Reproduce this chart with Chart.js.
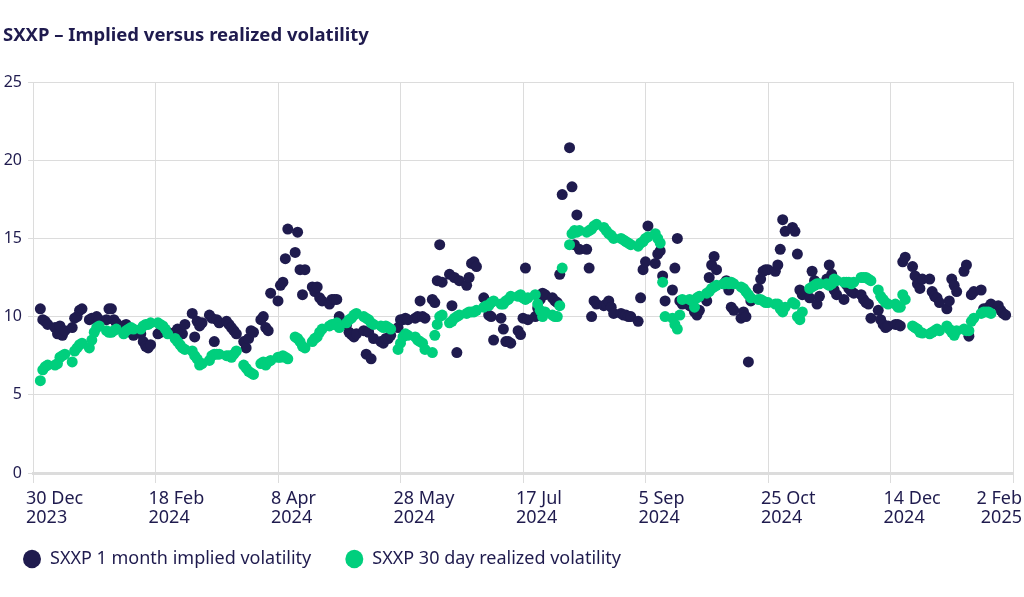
<!DOCTYPE html>
<html>
<head>
<meta charset="utf-8">
<script src="https://cdn.jsdelivr.net/npm/chart.js@4/dist/chart.umd.min.js"></script>
<style>
  body { margin: 0; background: #fff; }
  canvas { display: block; }
</style>
</head>
<body>
<canvas id="volChart" width="1024" height="597"></canvas>
<script>
// x values are days after 30 Dec 2023; one row per week (Mon..Fri), first Monday = 1 Jan 2024
var firstMonday = 2;
var monthNames = ['Jan', 'Feb', 'Mar', 'Apr', 'May', 'Jun', 'Jul', 'Aug', 'Sep', 'Oct', 'Nov', 'Dec'];
var xMin = 0, xMax = 400, xStep = 50;
var yMin = 0, yMax = 25, yStep = 5;

var seriesNames = ['SXXP 1 month implied volatility', 'SXXP 30 day realized volatility'];

var impliedVol = [
  null, 10.5, 9.8, 9.7, 9.5,
  9.3, 8.9, 9.4, 8.8, 9.1,
  9.3, 9.9, 10.0, 10.4, 10.5,
  9.8, 9.9, 9.9, 10.0, 9.8,
  9.8, 10.5, 10.5, 9.8, 9.6,
  9.4, 9.5, 9.3, 9.0, 8.8,
  8.9, 8.4, 8.1, 8.0, 8.2,
  8.9, 9.0, 9.3, 9.1, 9.0,
  9.0, 9.2, 9.1, 8.9, 9.5,
  10.2, 8.7, 9.7, 9.4, 9.6,
  10.1, 9.9, 8.4, 9.8, 9.6,
  9.7, 9.5, 9.3, 9.1, 8.9,
  8.4, 8.0, 8.6, 9.1, 9.0,
  9.8, 10.0, 9.3, 9.1, 11.5,
  11.0, 12.0, 12.2, 13.7, 15.6,
  14.1, 15.4, 13.0, 11.4, 13.0,
  11.9, 11.6, 11.9, 11.2, 11.0,
  10.8, 11.1, 11.1, 11.1, 10.0,
  9.5, 9.0, 8.85, 8.7, 8.9,
  9.1, 7.6, 9.0, 7.3, 8.6,
  8.4, 8.3, 8.6, 8.6, 8.8,
  9.3, 9.8, 9.8, 9.9, 9.8,
  9.9, 10.0, 11.0, 10.0, 9.9,
  11.1, 10.9, 12.3, 14.6, 12.2,
  12.7, 10.7, 12.5, 7.7, 12.3,
  12.0, 12.5, 13.4, 13.5, 13.2,
  11.2, 10.6, 10.1, 10.0, 8.5,
  9.9, 9.2, 8.4, 8.4, 8.3,
  9.1, 8.85, 9.9, 13.1, 9.8,
  10.0, 10.55, 11.1, 11.5, 11.4,
  11.2, 11.0, 10.9, 12.7, 17.8,
  20.8, 18.3, 14.6, 16.5, 14.3,
  14.3, 13.1, 10.0, 11.0, 10.8,
  10.7, 10.8, 11.0, 10.6, 10.2,
  10.2, 10.1, 10.1, 10.0, 10.0,
  9.7, 11.2, 13.0, 13.5, 15.8,
  13.4, 14.0, 14.2, 12.6, 11.0,
  11.7, 13.1, 15.0, 11.0, 10.8,
  10.7, 10.6, 10.3, 10.1, 10.4,
  11.0, 12.5, 13.3, 13.85, 13.0,
  12.1, 12.3, 11.7, 10.6, 10.4,
  9.9, 10.3, 10.0, 7.1, 11.0,
  11.8, 12.4, 12.9, 13.0, 13.0,
  12.9, 13.3, 14.3, 16.2, 15.45,
  15.7, 15.45, 14.0, 11.7, 11.4,
  11.2, 12.9, 12.3, 10.8, 11.3,
  12.4, 13.3, 12.7, 11.7, 11.4,
  11.1, 12.05, 11.8, 11.6, 11.5,
  11.4, 11.1, 10.9, 10.8, 9.9,
  10.4, 9.8, 9.5, 9.3, 9.4,
  9.5, 9.5, 9.4, 13.5, 13.8,
  13.2, 12.6, 12.1, 11.8, 12.4,
  12.4, 11.6, 11.3, 11.2, 10.9,
  10.5, 11.0, 12.4, 12.0, 11.6,
  12.9, 13.3, 8.75, 11.4, 11.6,
  11.7, 10.5, 10.4, 10.6, 10.8,
  10.7, 10.4, 10.2, 10.1, null
];

var realizedVol = [
  null, 5.9, 6.6, 6.8, 6.9,
  6.9, 7.0, 7.4, 7.5, 7.6,
  7.1, 7.8, 8.0, 8.2, 8.3,
  8.0, 8.5, 9.0, 9.3, 9.4,
  9.1, 9.0, 9.0, 9.1, 9.2,
  8.9, 9.1, 9.2, 9.3, 9.2,
  9.2, 9.4, 9.5, 9.5, 9.6,
  9.6, 9.5, 9.4, 9.2, 8.9,
  8.6, 8.4, 8.2, 8.0, 7.9,
  7.8, 7.5, 7.3, 6.9, 7.0,
  7.2, 7.5, 7.6, 7.6, 7.6,
  7.5, 7.5, 7.4, 7.6, 7.8,
  6.9, 6.7, 6.5, 6.4, 6.3,
  7.0, 7.1, 6.9, 7.1, 7.2,
  7.4, 7.4, 7.5, 7.4, 7.3,
  8.7, 8.6, 8.4, 8.1, 8.0,
  8.4, 8.6, 8.7, 9.0, 9.2,
  9.4, 9.5, 9.5, 9.6, 9.3,
  9.6, 9.8, 9.9, 10.1, 10.2,
  10.0, 9.9, 9.8, 9.6, 9.5,
  9.4, 9.3, 9.4, 9.3, 9.2,
  7.9, 8.3, 8.7, 8.9, 8.8,
  8.7, 8.5, 8.4, 8.3, 7.9,
  7.7, 8.8, 9.5, 10.0, 10.1,
  9.6, 9.7, 9.9, 10.0, 10.1,
  10.2, 10.3, 10.3, 10.3, 10.4,
  10.6, 10.7, 10.7, 10.9, 11.0,
  10.8, 10.8, 11.0, 11.1, 11.3,
  11.3, 11.4, 11.2, 11.1, 11.2,
  11.4, 10.8, 10.4, 10.0, 10.3,
  10.1, 10.0, 10.0, 10.7, 13.1,
  14.6, 15.3, 15.5, 15.4, 15.5,
  15.4, 15.5, 15.6, 15.8, 15.9,
  15.7, 15.5, 15.3, 15.2, 15.0,
  15.0, 14.9, 14.8, 14.7, 14.6,
  14.5, 14.7, 14.8, 15.0, 15.1,
  15.3, 15.0, 14.7, 12.2, 10.0,
  9.9, 9.5, 9.2, 10.1, 11.1,
  11.1, 11.0, 10.6, 11.2, 11.3,
  11.5, 11.6, 11.8, 11.9, 12.0,
  12.1, 12.2, 12.1, 12.2, 12.1,
  11.9, 11.8, 11.6, 11.4, 11.2,
  11.1, 11.1, 11.0, 10.9, 10.9,
  10.8, 10.8, 10.5, 10.3, 10.6,
  10.9, 10.8, 10.0, 9.8, 10.3,
  11.8, 11.9, 12.0, 12.1, 12.1,
  12.1, 12.0, 12.1, 12.4, 12.3,
  12.2, 12.2, 12.2, 12.1, 12.2,
  12.5, 12.5, 12.5, 12.4, 12.3,
  11.7, 11.3, 11.1, 10.9, 10.8,
  10.8, 10.6, 10.6, 11.4, 11.1,
  9.4, 9.3, 9.2, 9.0, 8.95,
  8.9, 9.0, 9.1, 9.2, 9.1,
  9.4, 9.2, 9.0, 8.8, 9.1,
  9.2, 9.1, 9.1, 9.7, 9.9,
  10.2, 10.3, 10.3, 10.3, 10.2,
  null, null, null, null, null
];

var navy = '#1f1b4e';
var green = '#00cf7d';
var gridGrey = '#dcdcdc';

// weekday positions -> {x, y} points, skipping empty days
function toPoints(values) {
    var pts = [];
    values.forEach(function (v, i) {
        if (v === null) return;
        var week = Math.floor(i / 5), day = i % 5;
        pts.push({ x: firstMonday + week * 7 + day, y: v });
    });
    return pts;
}

function dayLabel(offset) {
    var d = new Date(2023, 11, 30 + offset);
    return [d.getDate() + ' ' + monthNames[d.getMonth()], String(d.getFullYear())];
}

var xFontSize = 18, xLineHeight = 19.8, xTickLen = 10, xPad = 5.6;

// last date label sits inside the canvas, right aligned
var lastTickLabel = {
    id: 'lastTickLabel',
    afterDraw: function (chart) {
        var s = chart.scales.x;
        var ctx = chart.ctx;
        var px = s.getPixelForValue(xMax) + 9;
        ctx.save();
        ctx.font = xFontSize + 'px "Noto Sans"';
        ctx.fillStyle = navy;
        ctx.textAlign = 'right';
        ctx.textBaseline = 'middle';
        dayLabel(xMax).forEach(function (t, i) {
            ctx.fillText(t, px, s.top + xTickLen + xPad + xLineHeight / 2 + i * xLineHeight);
        });
        ctx.restore();
    }
};

var ctx = document.getElementById('volChart').getContext('2d');

var volChart = new Chart(ctx, {
    type: 'scatter',
    data: {
        datasets: [{
            label: seriesNames[0],
            data: toPoints(impliedVol),
            backgroundColor: navy,
            borderColor: navy,
            pointRadius: 5.5,
            pointBorderWidth: 0,
            pointHoverRadius: 5.5,
            order: 1
        }, {
            label: seriesNames[1],
            data: toPoints(realizedVol),
            backgroundColor: green,
            borderColor: green,
            pointRadius: 5.5,
            pointBorderWidth: 0,
            pointHoverRadius: 5.5,
            order: 0
        }]
    },
    options: {
        responsive: false,
        animation: false,
        devicePixelRatio: 1,
        layout: { padding: { left: 3, right: 11, top: 0, bottom: 19 } },
        plugins: {
            title: {
                display: true,
                text: 'SXXP – Implied versus realized volatility',
                align: 'start',
                color: navy,
                font: { family: 'Noto Sans', size: 18.5, weight: 'bold' },
                padding: { top: 25, bottom: 34.8 }
            },
            legend: {
                position: 'bottom',
                align: 'start',
                labels: {
                    usePointStyle: true,
                    pointStyle: 'circle',
                    boxHeight: 13,
                    pointStyleWidth: 18,
                    padding: 20,
                    color: navy,
                    font: { family: 'Noto Sans', size: 18 },
                    sort: function (a, b) { return a.datasetIndex - b.datasetIndex; },
                    generateLabels: function (chart) {
                        var items = Chart.defaults.plugins.legend.labels.generateLabels(chart);
                        items.forEach(function (it) { it.text = it.text + '   '; });
                        return items;
                    }
                }
            },
            tooltip: { enabled: false }
        },
        scales: {
            x: {
                type: 'linear',
                min: xMin,
                max: xMax,
                afterFit: function (scale) { scale.height = 57; },
                border: { color: gridGrey, width: 3 },
                grid: { color: gridGrey, lineWidth: 1, tickLength: xTickLen, tickColor: gridGrey },
                ticks: {
                    stepSize: xStep,
                    autoSkip: false,
                    maxRotation: 0,
                    align: 'start',
                    labelOffset: -7,
                    padding: xPad,
                    color: navy,
                    font: { family: 'Noto Sans', size: xFontSize, lineHeight: xLineHeight / xFontSize },
                    callback: function (value) {
                        if (value === xMax) return '';
                        return dayLabel(value);
                    }
                }
            },
            y: {
                min: yMin,
                max: yMax,
                afterFit: function (scale) { scale.width = 30; },
                border: { display: false },
                grid: { color: gridGrey, lineWidth: 1, tickLength: 5, tickColor: gridGrey },
                ticks: {
                    stepSize: yStep,
                    padding: 6,
                    color: navy,
                    font: { family: 'Noto Sans', size: 16 }
                }
            }
        }
    },
    plugins: [lastTickLabel]
});
</script>
</body>
</html>
